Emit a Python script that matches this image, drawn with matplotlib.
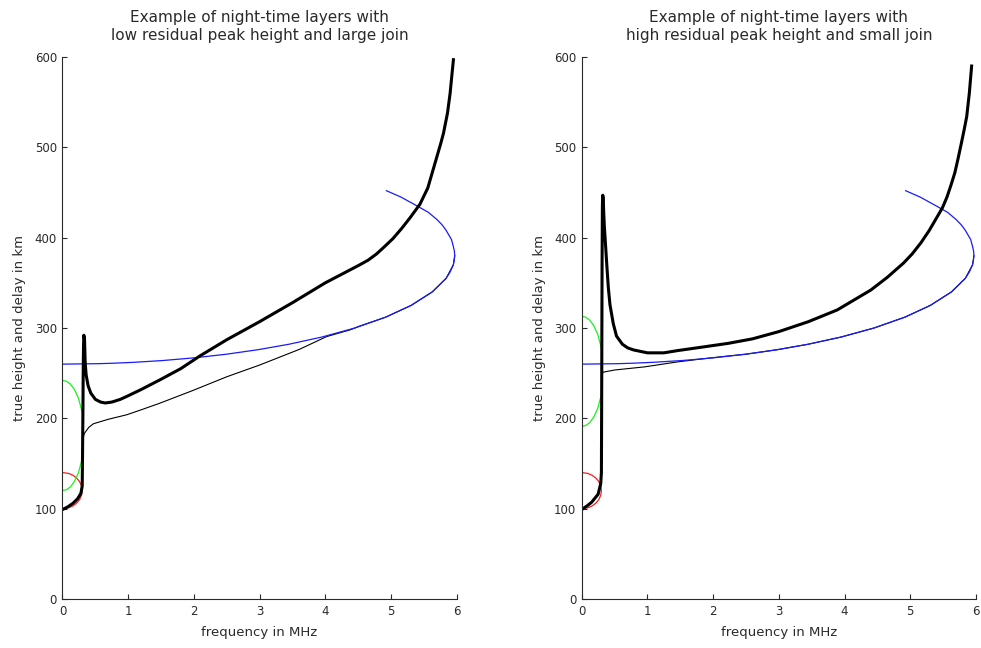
import matplotlib
matplotlib.use("Agg")
import matplotlib.pyplot as plt

# ---------------- data (frequency MHz, height km) ----------------
titles = ["Example of night-time layers with\nlow residual peak height and large join",
          "Example of night-time layers with\nhigh residual peak height and small join"]
xlabel = "frequency in MHz"
ylabel = "true height and delay in km"
xticks = [0, 1, 2, 3, 4, 5, 6]
yticks = [0, 100, 200, 300, 400, 500, 600]

# F layer (blue), same in both panels
f_layer_f = [0, 0.545, 0.769, 1.085, 1.529, 2.009, 2.497, 2.978, 3.445, 3.949, 4.450,
             4.919, 5.306, 5.629, 5.839, 5.90, 5.949, 5.962, 5.97, 5.965, 5.95, 5.92,
             5.84, 5.78, 5.70, 5.57, 5.40, 5.15, 4.93]
f_layer_h = [260, 260.5, 261, 262, 264, 267, 271, 276, 282, 290, 300,
             312, 325, 340, 355, 362, 370, 375, 380, 385, 390, 398,
             408, 414, 420, 428, 435, 445, 452]

# E layer (red), same in both panels
e_layer_f = [0, 0.094, 0.158, 0.214, 0.260, 0.290, 0.30, 0.290, 0.260, 0.214, 0.158, 0.094, 0]
e_layer_h = [100, 101, 103, 106, 110, 115, 120, 125, 130, 134, 137, 139, 140]

# valley / residual layer (green), two arcs per panel
g_low_f = [0, 0.060, 0.118, 0.181, 0.244, 0.299, 0.315]
g_up_f = [0, 0.060, 0.118, 0.181, 0.244, 0.299]
gL_low_h = [120, 121, 124, 130, 140, 155, 163]
gL_up_h = [242, 241, 238, 232, 222, 207]
gR_low_h = [191, 192, 195, 201, 211, 226, 233]
gR_up_h = [313, 312, 309, 303, 293, 278]

# left panel: true height (thin) and delay (thick)
L_thin_f = [0, 0.08, 0.16, 0.23, 0.28, 0.30, 0.31, 0.315, 0.33, 0.40, 0.47, 0.70, 0.98, 1.2,
            1.48, 1.99, 2.5, 3.0, 3.21, 3.61, 4.02, 4.38, 4.50, 4.919, 5.306, 5.629,
            5.839, 5.949, 5.97]
L_thin_h = [99, 102, 106, 111, 117, 125, 160, 178, 183, 190, 194, 199, 204, 209.5,
            216.7, 231, 246, 259, 265, 276.5, 290.5, 298, 301.5, 312, 325, 340,
            355, 370, 380]
L_thick_f = [0, 0.08, 0.16, 0.23, 0.28, 0.30, 0.305, 0.31, 0.315, 0.32, 0.325, 0.335, 0.34,
             0.345, 0.36, 0.39, 0.43, 0.50, 0.58, 0.65, 0.75, 0.88, 1.0, 1.2, 1.48, 1.8,
             2.09, 2.5, 3.0, 3.5, 4.0, 4.5, 4.65, 4.78, 4.9, 5.03, 5.16, 5.29, 5.37, 5.44,
             5.5, 5.56, 5.6, 5.64, 5.68, 5.72, 5.76, 5.80, 5.83, 5.86, 5.88, 5.90, 5.92,
             5.95]
L_thick_h = [99, 102, 106, 111, 117, 125, 160, 200, 250, 280, 292, 288, 275,
             262, 248, 236, 228, 221, 218, 217, 218, 221, 225, 232, 242.5, 255,
             269, 287, 307, 328, 350, 369, 375, 382, 390, 399, 410, 422, 430, 437,
             446, 455, 465, 475, 485, 495, 505, 516, 527, 538, 549, 560, 575,
             597]

# right panel
R_thin_f = [0, 0.15, 0.25, 0.29, 0.30, 0.305, 0.31, 0.32, 0.50, 0.96, 1.46, 1.8, 2.1,
            2.5, 2.978, 3.445, 3.949, 4.45, 4.919, 5.306, 5.629, 5.839, 5.949, 5.97]
R_thin_h = [99, 107, 115, 125, 140, 200, 245, 251, 253.5, 257, 262.5, 265.5, 268,
            271, 276, 282, 290, 300, 312, 325, 340, 355, 370, 380]
R_thick_f = [0, 0.08, 0.15, 0.25, 0.29, 0.30, 0.303, 0.306, 0.31, 0.315, 0.32, 0.328,
             0.335, 0.345, 0.355, 0.38, 0.405, 0.43, 0.48, 0.53, 0.62, 0.70, 0.79, 1.0,
             1.25, 1.46, 1.8, 2.23, 2.6, 3.0, 3.45, 3.89, 4.4, 4.65, 4.9, 5.03, 5.16,
             5.29, 5.41, 5.49, 5.56, 5.62, 5.68, 5.73, 5.78, 5.82, 5.86, 5.90, 5.935]
R_thick_h = [99, 103, 107, 116, 128, 140, 200, 270, 370, 435, 447, 444,
             428, 412, 401, 372, 345, 326, 305, 291, 282, 278, 275.7, 272.5,
             272.5, 275, 278.5, 283, 288, 296, 307, 320, 342, 356, 372, 382, 394,
             408, 423, 433, 445, 458, 472, 488, 505, 519, 534, 560, 590]

panels = [
    dict(title=titles[0], thin=(L_thin_f, L_thin_h), thick=(L_thick_f, L_thick_h),
         g_low=gL_low_h, g_up=gL_up_h),
    dict(title=titles[1], thin=(R_thin_f, R_thin_h), thick=(R_thick_f, R_thick_h),
         g_low=gR_low_h, g_up=gR_up_h),
]

# ---------------- figure ----------------
W, H = 981, 648
fig = plt.figure(figsize=(W / 100, H / 100), dpi=100)
plt.rcParams['font.family'] = ['DejaVu Sans']
axc = '#2a2a2a'
lefts = [62.5, 581.7]
for i, p in enumerate(panels):
    ax = fig.add_axes([lefts[i] / W, 1 - 599 / H, 394.2 / W, 542 / H])
    ax.plot(*p['thin'], color='k', lw=0.8)
    ax.plot(f_layer_f, f_layer_h, color=(0.1, 0.1, 1.0), lw=0.9)
    ax.plot(e_layer_f, e_layer_h, color=(1.0, 0.1, 0.1), lw=0.9)
    ax.plot(g_low_f, p['g_low'], color=(0.1, 0.95, 0.1), lw=0.9)
    ax.plot(g_up_f, p['g_up'], color=(0.1, 0.95, 0.1), lw=0.9)
    ax.plot(*p['thick'], color='k', lw=2.2, solid_joinstyle='round')
    ax.set_xlim(0, 6)
    ax.set_ylim(0, 600)
    ax.set_xticks(xticks)
    ax.set_yticks(yticks)
    for s in ['top', 'right']:
        ax.spines[s].set_visible(False)
    for s in ['left', 'bottom']:
        ax.spines[s].set_color(axc)
        ax.spines[s].set_linewidth(0.8)
    ax.tick_params(direction='in', length=3.5, width=0.8, colors=axc, labelsize=8.5,
                   pad=4)
    ax.set_xlabel(xlabel, fontsize=9.5, color=axc, labelpad=6)
    ax.set_ylabel(ylabel, fontsize=9.5, color=axc, labelpad=6)
    ax.set_title(p['title'], fontsize=11, color=axc, pad=12, linespacing=1.3)

fig.savefig("out.png", dpi=100)
